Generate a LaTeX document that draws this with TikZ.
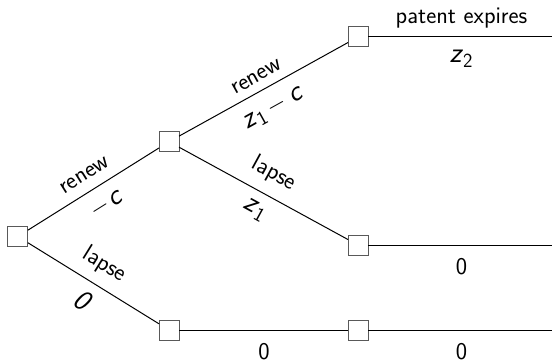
\documentclass[tikz,border=0pt]{standalone}
\usetikzlibrary{calc}
% math-style letters: sans oblique, set a little larger than the words
\newcommand{\mv}[1]{{\fontsize{29}{29}\selectfont\textit{#1}}}
% a minus sign of the same size
\newcommand{\mminus}{{\fontsize{27}{27}\selectfont$-$}}
% italic variable with an upright, lowered index
\newcommand{\varsub}[2]{\mv{#1}\raisebox{-4.5pt}{\fontsize{20}{20}\selectfont #2}}
\begin{document}
\begin{tikzpicture}[x=1pt,y=-1pt,
  every node/.style={font=\fontsize{24}{29}\selectfont\sffamily},
  box/.style={draw=black!65, fill=white, line width=1pt, minimum size=20pt,
    inner sep=0pt, outer sep=0pt},
  branch/.style={line width=1pt},
  lbl/.style={inner sep=0pt}]
\useasboundingbox (0,0) rectangle (552,361);

% decision boxes
\node[box] (a) at (17.8,236.5) {};
\node[box] (b) at (169,141.7) {};
\node[box] (c) at (358,37) {};
\node[box] (d) at (358,245) {};
\node[box] (e) at (169,330) {};
\node[box] (f) at (358,330) {};

% open ends of the final branches
\coordinate (cend) at (552,37);
\coordinate (dend) at (552,245);
\coordinate (fend) at (552,330);

% branches
\draw[branch] (a) -- (b);
\draw[branch] (a) -- (e);
\draw[branch] (b) -- (c);
\draw[branch] (b) -- (d);
\draw[branch] (e) -- (f);
\draw[branch] (c) -- (cend);
\draw[branch] (d) -- (dend);
\draw[branch] (f) -- (fend);

% labels on the sloped branches
\node[lbl, rotate=32.08] (ab1) at ($(a)!.5!(b)!16.4pt!90:(b)$) {renew};
\node[lbl, rotate=32.08] (ab2) at ($(a)!.52!(b)!20pt!-90:(b)$) {\mminus\kern2pt\mv{c}};
\node[lbl, rotate=-31.73] (ae1) at ($(a)!.5!(e)!21.7pt!90:(e)$) {lapse};
\node[lbl, rotate=-31.73] (ae2) at ($(a)!.5!(e)!20.5pt!-90:(e)$) {\mv{0}};
\node[lbl, rotate=28.99] (bc1) at ($(b)!.5!(c)!14pt!90:(c)$) {renew};
\node[lbl, rotate=28.99] (bc2) at ($(b)!.5!(c)!22pt!-90:(c)$) {\varsub{z}{1}\hspace{5pt}\mminus\hspace{6pt}\mv{c}};
\node[lbl, rotate=-28.65] (bd1) at ($(b)!.5!(d)!22.4pt!90:(d)$) {lapse};
\node[lbl, rotate=-28.65] (bd2) at ($(b)!.5!(d)!18.8pt!-90:(d)$) {\varsub{z}{1}};

% labels on the horizontal branches
\node[lbl, anchor=base] (c1) at (461.5,23.3) {patent expires};
\node[lbl, anchor=base] (c2) at (461,63) {\varsub{z}{2}};
\node[lbl, anchor=base] (d1) at (461.5,274.5) {0};
\node[lbl, anchor=base] (f1) at (461.5,359) {0};
\node[lbl, anchor=base] (e1) at (264,359) {0};
\end{tikzpicture}
\end{document}
